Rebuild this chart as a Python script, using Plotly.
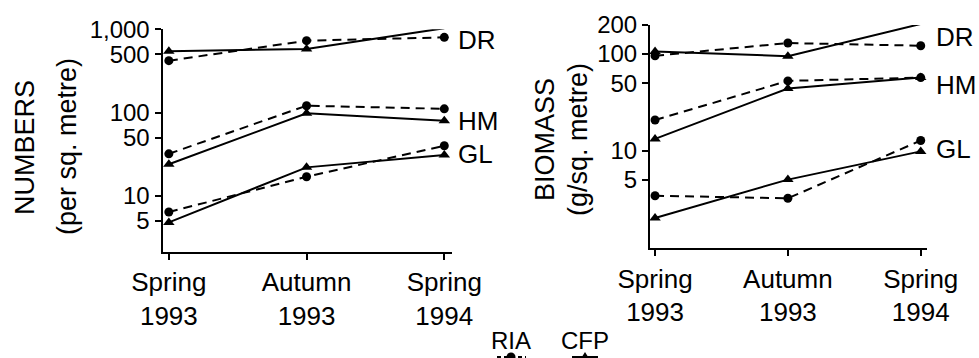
import plotly.graph_objects as go

W, H = 979, 358

seasons = ["Spring<br>1993", "Autumn<br>1993", "Spring<br>1994"]
xpos = [0, 1, 2]

# NUMBERS (per sq. metre)
num_DR_RIA = [420, 730, 800]
num_DR_CFP = [545, 580, 1030]
num_HM_RIA = [32, 121, 111]
num_HM_CFP = [24, 98, 80]
num_GL_RIA = [6.4, 17, 40]
num_GL_CFP = [4.8, 22, 31]

# BIOMASS (g/sq. metre)
bio_DR_RIA = [96, 130, 122]
bio_DR_CFP = [106, 95, 205]
bio_HM_RIA = [20.7, 52.7, 57]
bio_HM_CFP = [13.2, 44, 57]
bio_GL_RIA = [3.4, 3.2, 12.7]
bio_GL_CFP = [2.0, 5.0, 9.8]

num_ticks = [5, 10, 50, 100, 500, 1000]
num_ticktext = ["5", "10", "50", "100", "500", "1,000"]
bio_ticks = [5, 10, 50, 100, 200]
bio_ticktext = ["5", "10", "50", "100", "200"]

group_labels = ["DR", "HM", "GL"]

FONT = "Liberation Sans, Arial, Helvetica, sans-serif"

fig = go.Figure()

def add_pair(ria, cfp, xa, ya):
    fig.add_trace(go.Scatter(x=xpos, y=ria, mode="lines+markers", xaxis=xa, yaxis=ya,
                             line=dict(color="black", width=2, dash="9px,6px"),
                             marker=dict(symbol="circle", size=9, color="black"),
                             showlegend=False, cliponaxis=False))
    fig.add_trace(go.Scatter(x=xpos, y=cfp, mode="lines+markers", xaxis=xa, yaxis=ya,
                             line=dict(color="black", width=2),
                             marker=dict(symbol="triangle-up", size=10, color="black"),
                             showlegend=False, cliponaxis=False))

add_pair(num_DR_RIA, num_DR_CFP, "x", "y")
add_pair(num_HM_RIA, num_HM_CFP, "x", "y")
add_pair(num_GL_RIA, num_GL_CFP, "x", "y")
add_pair(bio_DR_RIA, bio_DR_CFP, "x2", "y2")
add_pair(bio_HM_RIA, bio_HM_CFP, "x2", "y2")
add_pair(bio_GL_RIA, bio_GL_CFP, "x2", "y2")

def px(x):
    return x / W

def py(y):
    return 1 - y / H

axis_common = dict(showline=True, linecolor="black", linewidth=2, ticks="outside",
                   ticklen=6, tickwidth=2, tickcolor="black", showgrid=False, zeroline=False,
                   automargin=False)
xfont = dict(family=FONT, size=26, color="black")
yfont = dict(family=FONT, size=24, color="black")

fig.update_layout(
    template="none",
    width=W, height=H, margin=dict(l=0, r=0, t=0, b=0, pad=0),
    paper_bgcolor="white", plot_bgcolor="white",
    font=dict(family=FONT, color="black"),
    xaxis=dict(domain=[px(162.5), px(452)], range=[-0.046, 2.056], tickvals=xpos,
               ticktext=seasons, anchor="y", tickfont=xfont, **axis_common),
    yaxis=dict(domain=[py(251.7), py(29.3)], type="log", range=[0.330, 3.0],
               tickvals=num_ticks, ticktext=num_ticktext, anchor="x", tickfont=yfont,
               **axis_common),
    xaxis2=dict(domain=[px(650), px(926.7)], range=[-0.038, 2.045], tickvals=xpos,
                ticktext=seasons, anchor="y2", tickfont=xfont, **axis_common),
    yaxis2=dict(domain=[py(248.3), py(25)], type="log", range=[-0.013, 2.301],
                tickvals=bio_ticks, ticktext=bio_ticktext, anchor="x2", tickfont=yfont,
                **axis_common),
)

ann = []
# group labels
for lab, yy in zip(group_labels, [40, 121, 154]):
    ann.append(dict(text=lab, x=px(456), y=py(yy), xref="paper", yref="paper",
                    xanchor="left", yanchor="middle", showarrow=False,
                    font=dict(family=FONT, size=26, color="black")))
for lab, yy in zip(group_labels, [37, 85, 149]):
    ann.append(dict(text=lab, x=px(934), y=py(yy), xref="paper", yref="paper",
                    xanchor="left", yanchor="middle", showarrow=False,
                    font=dict(family=FONT, size=26, color="black")))
# axis titles
for txt, xx, yy in [("NUMBERS", 25, 148), ("(per sq. metre)", 67, 147),
                    ("BIOMASS", 545, 140), ("(g/sq. metre)", 578, 140)]:
    ann.append(dict(text=txt, x=px(xx), y=py(yy), xref="paper", yref="paper",
                    xanchor="center", yanchor="middle", textangle=-90, showarrow=False,
                    font=dict(family=FONT, size=27, color="black")))
# legend texts
for txt, xx in [("RIA", 511), ("CFP", 585)]:
    ann.append(dict(text=txt, x=px(xx), y=py(340), xref="paper", yref="paper",
                    xanchor="center", yanchor="middle", showarrow=False,
                    font=dict(family=FONT, size=24, color="black")))
fig.update_layout(annotations=ann)

# legend glyphs (partially cut off at bottom edge, as in reference)
shapes = [
    dict(type="line", xref="paper", yref="paper", x0=px(497), x1=px(526), y0=py(357), y1=py(357),
         line=dict(color="black", width=2, dash="4px,3px")),
    dict(type="circle", xref="paper", yref="paper", x0=px(506.5), x1=px(515.5), y0=py(352.5), y1=py(361.5),
         fillcolor="black", line=dict(color="black", width=0)),
    dict(type="line", xref="paper", yref="paper", x0=px(572), x1=px(598), y0=py(357), y1=py(357),
         line=dict(color="black", width=2)),
    dict(type="path", xref="paper", yref="paper",
         path=f"M {px(580)} {py(360)} L {px(590)} {py(360)} L {px(585)} {py(352)} Z",
         fillcolor="black", line=dict(color="black", width=0)),
]
fig.update_layout(shapes=shapes)

fig.write_html("out.html")
